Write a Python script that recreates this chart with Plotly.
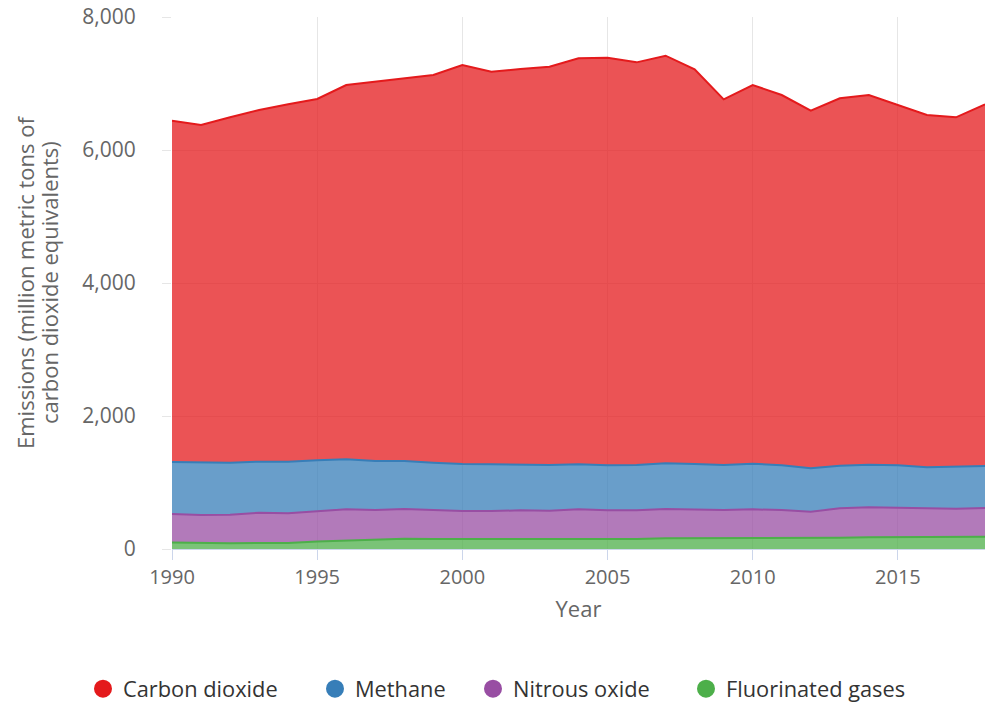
import plotly.graph_objects as go

years = list(range(1990, 2019))
carbon_dioxide = [5132, 5078, 5194, 5289, 5374, 5434, 5629, 5704, 5754, 5830,
                  6000, 5905, 5950, 5990, 6105, 6130, 6055, 6130, 5935, 5499,
                  5694, 5569, 5378, 5524, 5559, 5419, 5298, 5258, 5439]
methane = [782, 787, 782, 767, 777, 762, 752, 737, 722, 712,
           707, 702, 687, 687, 677, 677, 682, 687, 687, 677,
           687, 672, 652, 642, 642, 637, 622, 627, 632]
nitrous_oxide = [430, 425, 430, 455, 445, 460, 470, 450, 445, 435,
                 420, 430, 435, 435, 450, 435, 430, 440, 430, 425,
                 430, 415, 390, 440, 450, 440, 425, 425, 430]
fluorinated = [96, 86, 86, 91, 91, 111, 126, 136, 156, 151,
               151, 141, 146, 141, 146, 146, 151, 161, 161, 161,
               166, 171, 171, 171, 176, 181, 181, 181, 186]

series_names = ["Carbon dioxide", "Methane", "Nitrous oxide", "Fluorinated gases"]
series_values = [carbon_dioxide, methane, nitrous_oxide, fluorinated]
line_colors = ["#e41a1c", "#377eb8", "#984ea3", "#4daf4a"]
fill_colors = ["rgba(228,26,28,0.75)", "rgba(55,126,184,0.75)",
               "rgba(152,78,163,0.75)", "rgba(77,175,74,0.75)"]
y_title_lines = ["Emissions (million metric tons of", "carbon dioxide equivalents)"]

FONT = "Open Sans, Liberation Sans, sans-serif"
W, H = 987, 704

fig = go.Figure()
# stacked areas: bottom first
for name, vals, lc, fc in reversed(list(zip(series_names, series_values, line_colors, fill_colors))):
    fig.add_trace(go.Scatter(
        x=years, y=vals, name=name, mode="lines", stackgroup="one",
        line=dict(color=lc, width=2), fillcolor=fc, showlegend=False,
        hovertemplate="%{x}: %{y:,}<extra>" + name + "</extra>"))

# legend entries with circle symbols, each in its own legend box for spacing
legend_left_px = [83, 315, 473, 686]
legend_ids = ["legend", "legend2", "legend3", "legend4"]
for name, lc, lid in zip(series_names, line_colors, legend_ids):
    fig.add_trace(go.Scatter(
        x=[None], y=[None], name=name, mode="markers", legend=lid,
        marker=dict(color=lc, size=20, symbol="circle", line=dict(color=lc, width=2)),
        showlegend=True))

legend_common = dict(orientation="h", xref="container", yref="container",
                     xanchor="left", y=1 - 689 / H, yanchor="middle",
                     bgcolor="rgba(0,0,0,0)", borderwidth=0,
                     font=dict(family=FONT, size=21.8, color="#333333"),
                     itemsizing="trace")
legends = {}
for lid, px in zip(legend_ids, legend_left_px):
    legends[lid] = dict(legend_common, x=px / W)

annotations = []
for line, cx in zip(y_title_lines, [25, 49]):
    annotations.append(dict(
        text=line, xref="paper", yref="paper",
        x=(cx - 172) / (W - 172 - 2), y=0.5, xanchor="center", yanchor="middle",
        textangle=-90, showarrow=False,
        font=dict(family=FONT, size=22, color="#666666")))

fig.update_layout(
    width=W, height=H,
    margin=dict(l=172, r=2, t=17, b=155, autoexpand=False),
    paper_bgcolor="white", plot_bgcolor="white",
    font=dict(family=FONT, size=20, color="#666666"),
    showlegend=True,
    annotations=annotations,
    xaxis=dict(
        range=[1990, 2018], tickmode="linear", tick0=1990, dtick=5,
        showgrid=True, gridcolor="#e6e6e6", gridwidth=1,
        showline=True, linecolor="#ccd6eb", linewidth=1,
        ticks="outside", ticklen=10, tickcolor="#ccd6eb",
        tickfont=dict(size=20, color="#666666"),
        zeroline=False,
        title=dict(text="Year", font=dict(size=22, color="#666666"), standoff=12)),
    yaxis=dict(
        range=[0, 8000], tickmode="linear", tick0=0, dtick=2000,
        tickformat=",d",
        showgrid=True, gridcolor="#e6e6e6", gridwidth=1,
        zeroline=False, showline=False,
        ticks="outside", ticklen=9, tickcolor="#e6e6e6",
        ticklabelstandoff=22,
        tickfont=dict(size=21, color="#666666")),
    **legends,
)

fig.write_html("out.html", config={"displayModeBar": False},
               post_script="document.body.style.margin='0';document.body.style.overflow='hidden';")
